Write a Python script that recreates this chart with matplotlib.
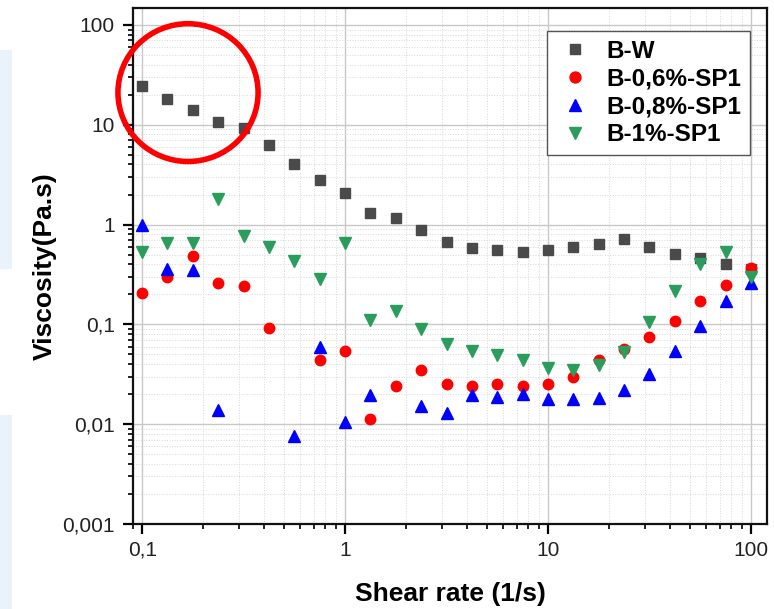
import numpy as np
import matplotlib
matplotlib.use("Agg")
import matplotlib.pyplot as plt
from matplotlib.patches import Ellipse, Rectangle
from matplotlib.ticker import FixedLocator, FuncFormatter, LogLocator, NullFormatter

plt.rcParams['font.family'] = ['Liberation Sans', 'DejaVu Sans']

# shear rate (1/s)
shear_rate = [0.1, 0.133, 0.178, 0.237, 0.316, 0.422, 0.562, 0.75, 1.0, 1.33,
              1.78, 2.37, 3.16, 4.22, 5.62, 7.5, 10.0, 13.3, 17.8, 23.7,
              31.6, 42.2, 56.2, 75.0, 100.0]

nan = np.nan
# viscosity (Pa.s)
b_w = [24.7, 18.3, 14.0, 10.6, 9.3, 6.3, 4.0, 2.8, 2.06, 1.32,
       1.17, 0.88, 0.675, 0.58, 0.55, 0.537, 0.557, 0.6, 0.64, 0.72,
       0.59, 0.51, 0.46, 0.40, 0.36]
b_06 = [0.205, 0.30, 0.48, 0.258, 0.244, 0.093, nan, 0.044, 0.054, 0.0112,
        0.0244, 0.035, 0.025, 0.0243, 0.025, 0.024, 0.025, 0.030, 0.044, 0.057,
        0.074, 0.108, 0.17, 0.25, 0.37]
b_08 = [1.0, 0.36, 0.35, 0.0138, nan, nan, 0.0076, 0.059, 0.0106, 0.0195,
        nan, 0.0153, 0.0129, 0.0196, 0.0186, 0.0201, 0.0179, 0.018, 0.0185, 0.022,
        0.032, 0.054, 0.097, 0.17, 0.257]
b_1 = [0.527, 0.65, 0.66, 1.79, 0.77, 0.60, 0.43, 0.283, 0.65, 0.11,
       0.137, 0.089, 0.063, 0.054, 0.049, 0.044, 0.0368, 0.035, 0.039, 0.0525,
       0.106, 0.215, 0.40, 0.53, 0.30]

x_ticks = [0.1, 1, 10, 100]
y_ticks = [0.001, 0.01, 0.1, 1, 10, 100]

fig = plt.figure(figsize=(7.74, 6.09), dpi=100)

# light blue slide remnants at the left edge
fig.patches.append(Rectangle((0, 0.558), 0.0155, 0.36, transform=fig.transFigure,
                             facecolor='#eaf2fb', edgecolor='none', zorder=0))
fig.patches.append(Rectangle((0, 0), 0.0155, 0.3186, transform=fig.transFigure,
                             facecolor='#eaf2fb', edgecolor='none', zorder=0))

ax = fig.add_axes([0.1718, 0.1396, 0.8192, 0.8473])
ax.set_xscale('log')
ax.set_yscale('log')
ax.set_xlim(0.09, 120)
ax.set_ylim(0.001, 148)

ms = 7.5
ax.plot(shear_rate, b_w, 's', color='#4a4a4a', markersize=ms - 0.3, label='B-W', zorder=3)
ax.plot(shear_rate, b_06, 'o', color='#ff0000', markersize=ms, label='B-0,6%-SP1', zorder=3)
ax.plot(shear_rate, b_08, '^', color='#0000ff', markersize=ms + 0.5, label='B-0,8%-SP1', zorder=3)
ax.plot(shear_rate, b_1, 'v', color='#2a9d5c', markersize=ms + 0.5, label='B-1%-SP1', zorder=3)

# ticks and grid
fmt = FuncFormatter(lambda v, p: ('%g' % v).replace('.', ','))
ax.xaxis.set_major_locator(FixedLocator(x_ticks))
ax.yaxis.set_major_locator(FixedLocator(y_ticks))
ax.xaxis.set_major_formatter(fmt)
ax.yaxis.set_major_formatter(fmt)
ax.xaxis.set_minor_locator(LogLocator(base=10, subs=np.arange(2, 10)))
ax.yaxis.set_minor_locator(LogLocator(base=10, subs=np.arange(2, 10)))
ax.xaxis.set_minor_formatter(NullFormatter())
ax.yaxis.set_minor_formatter(NullFormatter())

ax.tick_params(which='major', direction='out', length=7, width=1.6, labelsize=15,
               labelcolor='#222222', pad=5)
ax.tick_params(which='minor', direction='out', length=3.5, width=1.2)
ax.tick_params(axis='y', which='major', pad=6)

ax.grid(True, which='major', color='#c8c8c8', linewidth=1.0, zorder=0)
ax.grid(True, which='minor', color='#d8d8d8', linewidth=0.7, linestyle=':', zorder=0)
ax.set_axisbelow(True)

for s in ax.spines.values():
    s.set_linewidth(1.6)
    s.set_color('#111111')

ax.set_xlabel('Shear rate (1/s)', fontsize=19, fontweight='bold', labelpad=16)
ax.set_ylabel('Viscosity(Pa.s)', fontsize=19, fontweight='bold', labelpad=4)

leg = ax.legend(loc='upper right', bbox_to_anchor=(0.973, 0.955), borderaxespad=0,
                prop={'weight': 'bold', 'size': 17.5}, frameon=True, fancybox=False,
                edgecolor='#555555', framealpha=1, labelspacing=0.2,
                handletextpad=0.5, borderpad=0.35, handlelength=1.6, markerscale=1.05)
leg.get_frame().set_linewidth(1.0)

# red circle highlight
circle = Ellipse((0.0868, 0.836), 0.221, 0.267, transform=ax.transAxes,
                 fill=False, edgecolor='#ff0000', linewidth=4.0, clip_on=False, zorder=5)
ax.add_patch(circle)

fig.savefig('out.png', dpi=100)
